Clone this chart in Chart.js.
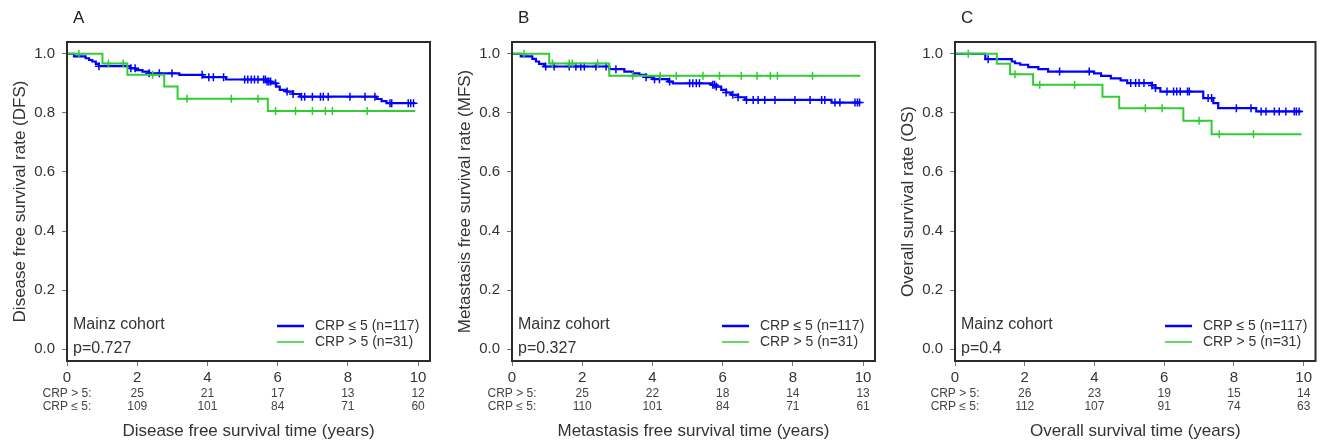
<!DOCTYPE html>
<html>
<head>
<meta charset="utf-8">
<script src="https://cdn.jsdelivr.net/npm/chart.js@4.4.0/dist/chart.umd.min.js"></script>
<style>
  html, body { margin: 0; padding: 0; background: #ffffff; }
  #wrap { position: relative; width: 1321px; height: 444px; overflow: hidden; }
  canvas { position: absolute; top: 0; }
</style>
</head>
<body>
<div id="wrap">
  <canvas id="cA" width="445" height="444" style="left:0px;width:445px;height:444px"></canvas>
  <canvas id="cB" width="445" height="444" style="left:445px;width:445px;height:444px"></canvas>
  <canvas id="cC" width="433" height="444" style="left:888px;width:433px;height:444px"></canvas>
</div>
<script>
// ---------- shared axis data ----------
const xTicks = [0, 2, 4, 6, 8, 10];
const yTicks = [0, 0.2, 0.4, 0.6, 0.8, 1.0];
const riskTimes = [2, 4, 6, 8, 10];
const groupLabels = ['CRP \u2264 5 (n=117)', 'CRP > 5 (n=31)'];
const riskRowLabels = ['CRP > 5:', 'CRP \u2264 5:'];
const panelLetters = ['A', 'B', 'C'];
const cohortText = 'Mainz cohort';
const pValues = ['p=0.727', 'p=0.327', 'p=0.4'];
const yTitles = ['Disease free survival rate (DFS)', 'Metastasis free survival rate (MFS)', 'Overall survival rate (OS)'];
const xTitles = ['Disease free survival time (years)', 'Metastasis free survival time (years)', 'Overall survival time (years)'];

// ---------- Panel A: DFS ----------
const dfsLowTime  = [0, 0.2, 0.53, 0.63, 0.72, 0.82, 0.91, 1.8, 1.95, 2.15, 2.34, 3.2, 3.87, 4.53, 5.68, 5.82, 5.96, 6.06, 6.25, 6.44, 6.63, 8.82, 8.96, 9.1, 9.92];
const dfsLowSurv  = [1, 0.991, 0.985, 0.979, 0.974, 0.966, 0.958, 0.951, 0.945, 0.94, 0.934, 0.929, 0.921, 0.913, 0.906, 0.9, 0.889, 0.878, 0.872, 0.864, 0.855, 0.847, 0.84, 0.833, 0.833];
const dfsLowCensor = [0.91, 1.82, 1.94, 2.34, 2.63, 2.99, 3.85, 4.04, 4.17, 4.46, 5.06, 5.15, 5.25, 5.34, 5.44, 5.6, 5.65, 5.7, 5.75, 5.8, 5.94, 6.27, 6.44, 6.68, 6.77, 6.99, 7.22, 7.3, 7.44, 8.06, 8.49, 8.77, 9.2, 9.25, 9.72, 9.79, 9.87];
const dfsHighTime = [0, 1.01, 1.72, 2.77, 3.15, 5.72, 9.92];
const dfsHighSurv = [1, 0.967, 0.929, 0.889, 0.848, 0.806, 0.806];
const dfsHighCensor = [0.34, 1.18, 1.6, 2.44, 3.42, 4.68, 5.44, 5.94, 6.51, 6.99, 7.36, 7.56, 8.55];
const dfsRiskHigh = [25, 21, 17, 13, 12];
const dfsRiskLow  = [109, 101, 84, 71, 60];

// ---------- Panel B: MFS ----------
const mfsLowTime  = [0, 0.25, 0.58, 0.68, 0.77, 0.91, 2.77, 3.2, 3.44, 3.63, 3.82, 4.01, 4.44, 4.58, 5.68, 5.82, 5.96, 6.1, 6.25, 6.44, 6.63, 9.1, 9.92];
const mfsLowSurv  = [1, 0.991, 0.983, 0.974, 0.966, 0.957, 0.948, 0.94, 0.934, 0.929, 0.921, 0.914, 0.906, 0.9, 0.895, 0.889, 0.878, 0.869, 0.861, 0.853, 0.844, 0.835, 0.835];
const mfsLowCensor = [0.96, 1.2, 1.63, 1.82, 1.96, 2.06, 2.39, 2.68, 2.96, 3.82, 4.06, 4.2, 4.49, 5.06, 5.15, 5.25, 5.34, 5.72, 5.77, 5.82, 6.1, 6.29, 6.44, 6.68, 6.87, 7.01, 7.2, 7.49, 8.06, 8.49, 8.82, 8.91, 9.2, 9.34, 9.77, 9.84, 9.9];
const mfsHighTime = [0, 1.06, 2.77, 9.92];
const mfsHighSurv = [1, 0.967, 0.926, 0.926];
const mfsHighCensor = [0.34, 1.15, 1.63, 1.72, 2.44, 3.44, 4.22, 4.68, 5.44, 5.91, 6.53, 6.98, 7.36, 7.56, 8.56];
const mfsRiskHigh = [25, 22, 18, 14, 13];
const mfsRiskLow  = [110, 101, 84, 71, 61];

// ---------- Panel C: OS ----------
const osLowTime  = [0, 0.87, 1.63, 1.72, 1.87, 2.1, 2.39, 2.67, 3.99, 4.19, 4.47, 4.75, 4.94, 5.65, 5.75, 5.89, 7.12, 7.41, 7.55, 8.64, 9.94];
const osLowSurv  = [1, 0.982, 0.974, 0.968, 0.963, 0.955, 0.948, 0.94, 0.934, 0.925, 0.917, 0.91, 0.901, 0.893, 0.884, 0.872, 0.85, 0.833, 0.816, 0.805, 0.805];
const osLowCensor = [0.95, 3.0, 3.85, 5.04, 5.18, 5.28, 5.42, 5.65, 5.75, 6.08, 6.27, 6.36, 6.46, 6.67, 6.72, 7.26, 7.36, 8.07, 8.49, 8.78, 8.92, 9.16, 9.3, 9.49, 9.73, 9.79, 9.87];
const osHighTime = [0, 1.2, 1.58, 2.24, 4.23, 4.71, 6.55, 7.36, 9.94];
const osHighSurv = [1, 0.966, 0.931, 0.895, 0.855, 0.816, 0.773, 0.728, 0.728];
const osHighCensor = [0.38, 1.72, 2.43, 3.43, 5.46, 5.94, 7.0, 7.58, 8.56];
const osRiskHigh = [26, 23, 19, 15, 14];
const osRiskLow  = [112, 107, 91, 74, 63];

// ---------- helpers ----------
const FONT = '"Liberation Sans", Arial, Helvetica, sans-serif';
const BLUE = '#0000ff';
const GREEN = '#33cc33';
const TEXT = '#333333';
Chart.defaults.font.family = FONT;
Chart.defaults.color = TEXT;

function stepPoints(times, surv) {
  return times.map((t, i) => ({ x: t, y: surv[i] }));
}
function censorPoints(censor, times, surv) {
  return censor.map(c => {
    let idx = 0;
    for (let i = 0; i < times.length; i++) { if (times[i] <= c) idx = i; }
    return { x: c, y: surv[idx] };
  });
}

const kmDecor = {
  id: 'kmDecor',
  afterDraw(chart, args, o) {
    const { ctx, chartArea: a } = chart;
    const xs = chart.scales.x;
    ctx.save();
    // frame
    ctx.strokeStyle = '#2b2b2b';
    ctx.lineWidth = 2;
    ctx.strokeRect(a.left, a.top, a.right - a.left, a.bottom - a.top);
    // panel letter
    ctx.fillStyle = '#222';
    ctx.textAlign = 'left';
    ctx.textBaseline = 'middle';
    ctx.font = '17px ' + FONT;
    ctx.fillText(o.letter, a.left + 6, 18);
    // cohort and p value
    ctx.fillStyle = TEXT;
    ctx.font = '16px ' + FONT;
    ctx.fillText(o.cohort, a.left + 6, a.bottom - 36);
    ctx.fillText(o.p, a.left + 6, a.bottom - 12);
    // legend
    const lx = a.left + 210;
    const rows = [{ c: BLUE, w: 2.5, t: o.labels[0], y: a.bottom - 35 },
                  { c: GREEN, w: 1.5, t: o.labels[1], y: a.bottom - 19 }];
    ctx.font = '14px ' + FONT;
    rows.forEach(r => {
      ctx.strokeStyle = r.c; ctx.lineWidth = r.w;
      ctx.beginPath(); ctx.moveTo(lx, r.y); ctx.lineTo(lx + 27, r.y); ctx.stroke();
      ctx.fillStyle = TEXT;
      ctx.fillText(r.t, lx + 38, r.y);
    });
    // risk table
    ctx.textAlign = 'center';
    ctx.font = '12px ' + FONT;
    ctx.fillStyle = '#444';
    const y1 = a.bottom + 33, y2 = a.bottom + 46;
    ctx.fillText(o.rowLabels[0], xs.getPixelForValue(0), y1);
    ctx.fillText(o.rowLabels[1], xs.getPixelForValue(0), y2);
    o.riskTimes.forEach((t, i) => {
      const px = xs.getPixelForValue(t);
      ctx.fillText(String(o.high[i]), px, y1);
      ctx.fillText(String(o.low[i]), px, y2);
    });
    ctx.restore();
  }
};

function makePanel(id, k, low, high, rightPad) {
  const ctx = document.getElementById(id);
  return new Chart(ctx, {
    type: 'line',
    data: {
      datasets: [
        { label: groupLabels[1] + ' censored', data: censorPoints(high.censor, high.time, high.surv),
          showLine: false, pointStyle: 'cross', pointRadius: 4, pointBorderWidth: 1.5,
          pointBorderColor: GREEN, borderColor: GREEN, pointHoverRadius: 0 },
        { label: groupLabels[1], data: stepPoints(high.time, high.surv), stepped: 'before',
          borderColor: GREEN, borderWidth: 2, pointRadius: 0, fill: false },
        { label: groupLabels[0] + ' censored', data: censorPoints(low.censor, low.time, low.surv),
          showLine: false, pointStyle: 'cross', pointRadius: 4, pointBorderWidth: 1.5,
          pointBorderColor: BLUE, borderColor: BLUE, pointHoverRadius: 0 },
        { label: groupLabels[0], data: stepPoints(low.time, low.surv), stepped: 'before',
          borderColor: BLUE, borderWidth: 2.2, pointRadius: 0, fill: false }
      ]
    },
    options: {
      responsive: false,
      animation: false,
      events: [],
      layout: { padding: { left: 0, top: 42, right: rightPad, bottom: 0 } },
      plugins: {
        legend: { display: false },
        tooltip: { enabled: false },
        kmDecor: { letter: panelLetters[k], cohort: cohortText, p: pValues[k], labels: groupLabels,
                   rowLabels: riskRowLabels, riskTimes: riskTimes, high: high.risk, low: low.risk }
      },
      scales: {
        x: {
          type: 'linear', min: 0, max: 10.34,
          afterBuildTicks: s => { s.ticks = xTicks.map(v => ({ value: v })); },
          afterFit: s => { s.height = 83; },
          ticks: { font: { size: 15 }, color: TEXT, padding: 3, maxRotation: 0, callback: v => String(v) },
          grid: { display: true, drawOnChartArea: false, drawTicks: true, tickLength: 5, color: '#777' },
          border: { display: false },
          title: { display: true, text: xTitles[k], font: { size: 17 }, color: TEXT, padding: { top: 0, bottom: 2 } }
        },
        y: {
          type: 'linear', min: -0.04, max: 1.04,
          afterBuildTicks: s => { s.ticks = yTicks.map(v => ({ value: v })); },
          afterFit: s => { s.width = 67; },
          ticks: { font: { size: 15 }, color: TEXT, padding: 7, callback: v => Number(v).toFixed(1) },
          grid: { display: true, drawOnChartArea: false, drawTicks: true, tickLength: 5, color: '#777' },
          border: { display: false },
          title: { display: true, text: yTitles[k], font: { size: 17 }, color: TEXT, padding: { top: 10, bottom: 0 } }
        }
      }
    },
    plugins: [kmDecor]
  });
}

makePanel('cA', 0,
  { time: dfsLowTime, surv: dfsLowSurv, censor: dfsLowCensor, risk: dfsRiskLow },
  { time: dfsHighTime, surv: dfsHighSurv, censor: dfsHighCensor, risk: dfsRiskHigh }, 15);
makePanel('cB', 1,
  { time: mfsLowTime, surv: mfsLowSurv, censor: mfsLowCensor, risk: mfsRiskLow },
  { time: mfsHighTime, surv: mfsHighSurv, censor: mfsHighCensor, risk: mfsRiskHigh }, 15);
makePanel('cC', 2,
  { time: osLowTime, surv: osLowSurv, censor: osLowCensor, risk: osRiskLow },
  { time: osHighTime, surv: osHighSurv, censor: osHighCensor, risk: osRiskHigh }, 3);
</script>
</body>
</html>
